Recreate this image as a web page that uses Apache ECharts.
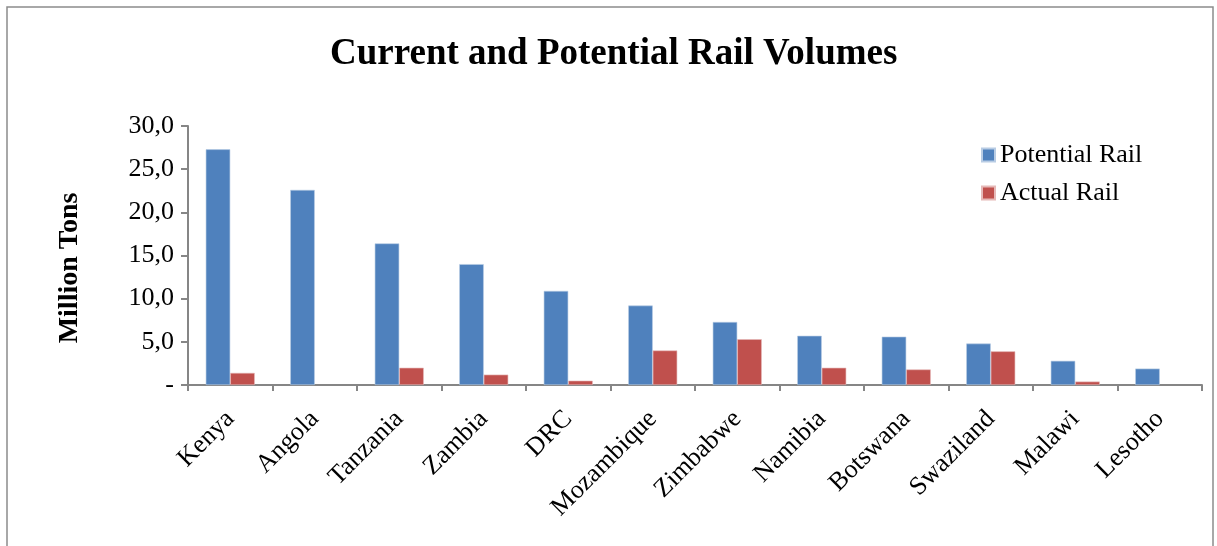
<!DOCTYPE html>
<html>
<head>
<meta charset="utf-8">
<style>
  html, body { margin: 0; padding: 0; background: #fff; }
  #chart { width: 1217px; height: 546px; }
</style>
<script src="https://cdn.jsdelivr.net/npm/echarts@6/dist/echarts.min.js"></script>
</head>
<body>
<div id="chart"></div>
<script>
// Rail volumes by country, million tons
const countries = ['Kenya', 'Angola', 'Tanzania', 'Zambia', 'DRC', 'Mozambique',
  'Zimbabwe', 'Namibia', 'Botswana', 'Swaziland', 'Malawi', 'Lesotho'];
const potentialRail = [27.3, 22.6, 16.4, 14.0, 10.9, 9.2, 7.3, 5.7, 5.6, 4.8, 2.8, 1.9];
const actualRail = [1.4, null, 2.0, 1.2, 0.5, 4.0, 5.3, 2.0, 1.8, 3.9, 0.4, null];
const yTicks = [0, 5, 10, 15, 20, 25, 30];

const serif = '"Liberation Serif", "Times New Roman", serif';
const chart = echarts.init(document.getElementById('chart'));

chart.setOption({
  animation: false,
  backgroundColor: '#fff',
  title: {
    text: 'Current and Potential Rail Volumes',
    left: 325,
    top: 31,
    textStyle: { fontFamily: serif, fontSize: 37, fontWeight: 'bold', color: '#000' }
  },
  legend: {
    orient: 'vertical',
    left: 976,
    top: 137,
    itemWidth: 13,
    itemHeight: 13,
    itemGap: 12,
    icon: 'rect',
    textStyle: { fontFamily: serif, fontSize: 26, color: '#000' },
    data: ['Potential Rail', 'Actual Rail']
  },
  grid: { left: 188, right: 15, top: 126, bottom: 161 },
  graphic: [{
    type: 'rect',
    shape: { x: 7, y: 7, width: 1206, height: 560 },
    style: { fill: 'none', stroke: '#8c8c8c', lineWidth: 1.5 },
    silent: true
  }],
  xAxis: {
    type: 'category',
    data: countries,
    axisLine: { lineStyle: { color: '#868686', width: 2 } },
    axisTick: { show: true, length: 6, lineStyle: { color: '#868686', width: 2 } },
    axisLabel: {
      rotate: 45,
      interval: 0,
      margin: 30,
      fontFamily: serif,
      fontSize: 26,
      color: '#000'
    }
  },
  yAxis: {
    type: 'value',
    min: yTicks[0],
    max: yTicks[yTicks.length - 1],
    interval: 5,
    name: 'Million Tons',
    nameLocation: 'middle',
    nameGap: 104,
    nameRotate: 90,
    nameTextStyle: {
      fontFamily: serif, fontSize: 28, fontWeight: 'bold', color: '#000',
      padding: [0, 25, 0, 0]
    },
    axisLine: { show: true, lineStyle: { color: '#868686', width: 2 } },
    axisTick: { show: true, length: 7, lineStyle: { color: '#868686', width: 2 } },
    splitLine: { show: false },
    axisLabel: {
      margin: 14,
      fontFamily: serif,
      fontSize: 26,
      color: '#000',
      formatter: v => v === 0 ? '-' : v.toFixed(1).replace('.', ',')
    }
  },
  series: [
    {
      name: 'Potential Rail',
      type: 'bar',
      data: potentialRail,
      barGap: '0%',
      barCategoryGap: '42%',
      itemStyle: { color: '#4F81BD', borderColor: '#b8cce4', borderWidth: 0.6 }
    },
    {
      name: 'Actual Rail',
      type: 'bar',
      data: actualRail,
      itemStyle: { color: '#C0504D', borderColor: '#e6b9b8', borderWidth: 0.6 }
    }
  ]
});
</script>
</body>
</html>
